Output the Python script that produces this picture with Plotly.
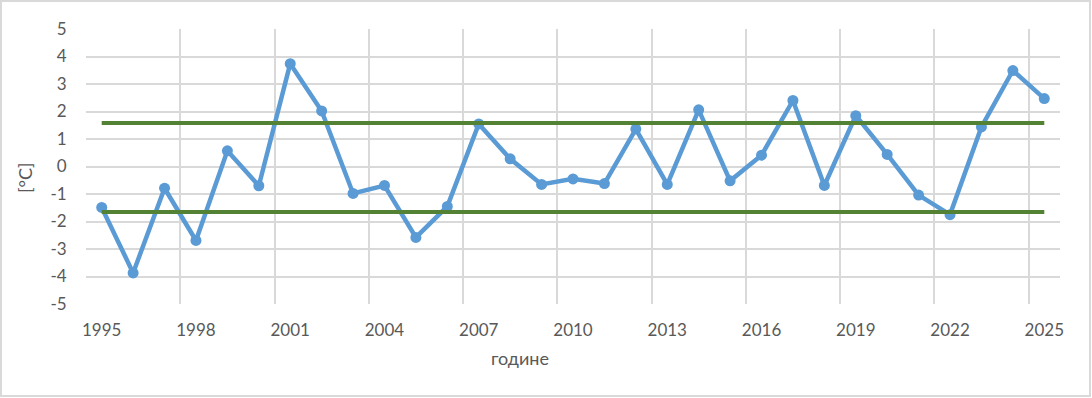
import plotly.graph_objects as go

years = list(range(1995, 2026))
anomaly = [-1.49, -3.87, -0.79, -2.69, 0.57, -0.70, 3.74, 2.02, -0.98, -0.69,
           -2.58, -1.45, 1.55, 0.28, -0.65, -0.45, -0.62, 1.36, -0.65, 2.06,
           -0.52, 0.41, 2.40, -0.69, 1.85, 0.44, -1.04, -1.75, 1.44, 3.49, 2.47]
upper_limit = 1.58
lower_limit = -1.65
tick_years = [1995, 1998, 2001, 2004, 2007, 2010, 2013, 2016, 2019, 2022, 2025]
y_ticks = [5, 4, 3, 2, 1, 0, -1, -2, -3, -4, -5]

font_family = "Lato, 'Open Sans', sans-serif"
text_color = "#595959"
grid_color = "#d9d9d9"

W, H = 1092, 398
ML, MR, MT, MB = 86, 32, 29, 94
PW, PH = W - ML - MR, H - MT - MB


def px_x(p):
    return (p - ML) / PW


def px_y(p):
    return (H - MB - p) / PH


fig = go.Figure()
fig.add_trace(go.Scatter(
    x=years, y=anomaly, mode="lines+markers",
    line=dict(color="#5b9bd5", width=4.5),
    marker=dict(color="#5b9bd5", size=11),
    showlegend=False, hoverinfo="x+y"))
fig.add_trace(go.Scatter(
    x=[years[0], years[-1]], y=[upper_limit, upper_limit], mode="lines",
    line=dict(color="#548235", width=4), showlegend=False))
fig.add_trace(go.Scatter(
    x=[years[0], years[-1]], y=[lower_limit, lower_limit], mode="lines",
    line=dict(color="#548235", width=4), showlegend=False))

fig.update_layout(
    width=W, height=H,
    margin=dict(l=ML, r=MR, t=MT, b=MB, autoexpand=False),
    paper_bgcolor="white", plot_bgcolor="white",
    font=dict(family=font_family, size=17, color=text_color),
    xaxis=dict(
        range=[years[0] - 0.5, years[-1] + 0.5], automargin=False,
        tickmode="array", tickvals=tick_years, ticktext=[str(t) for t in tick_years],
        showgrid=False, zeroline=False, showline=False,
        ticks="outside", ticklen=11, tickcolor="rgba(0,0,0,0)",
        minor=dict(tick0=years[0] - 0.5, dtick=3, showgrid=True,
                   gridcolor=grid_color, gridwidth=1.5, ticks=""),
    ),
    yaxis=dict(
        range=[-5, 5], automargin=False, tickmode="array", tickvals=y_ticks,
        ticktext=[str(v) for v in y_ticks],
        showgrid=True, gridcolor=grid_color, gridwidth=1.5,
        zeroline=False, showline=False,
        ticks="outside", ticklen=15, tickcolor="rgba(0,0,0,0)",
    ),
    annotations=[
        dict(text="године", xref="paper", yref="paper", x=px_x(520), y=px_y(358),
             showarrow=False, xanchor="center", yanchor="middle",
             font=dict(size=18, color=text_color)),
        dict(text="[°C]", xref="paper", yref="paper", x=px_x(25), y=px_y(178),
             showarrow=False, xanchor="center", yanchor="middle", textangle=-90,
             font=dict(size=18, color=text_color)),
    ],
    shapes=[dict(type="rect", xref="paper", yref="paper",
                 x0=px_x(1), x1=px_x(1090), y0=px_y(396), y1=px_y(1),
                 line=dict(color=grid_color, width=2), fillcolor="rgba(0,0,0,0)",
                 layer="below")],
)

fig.write_html("out.html", config={"displayModeBar": False},
               post_script="document.body.style.margin='0';document.body.style.overflow='hidden';")
